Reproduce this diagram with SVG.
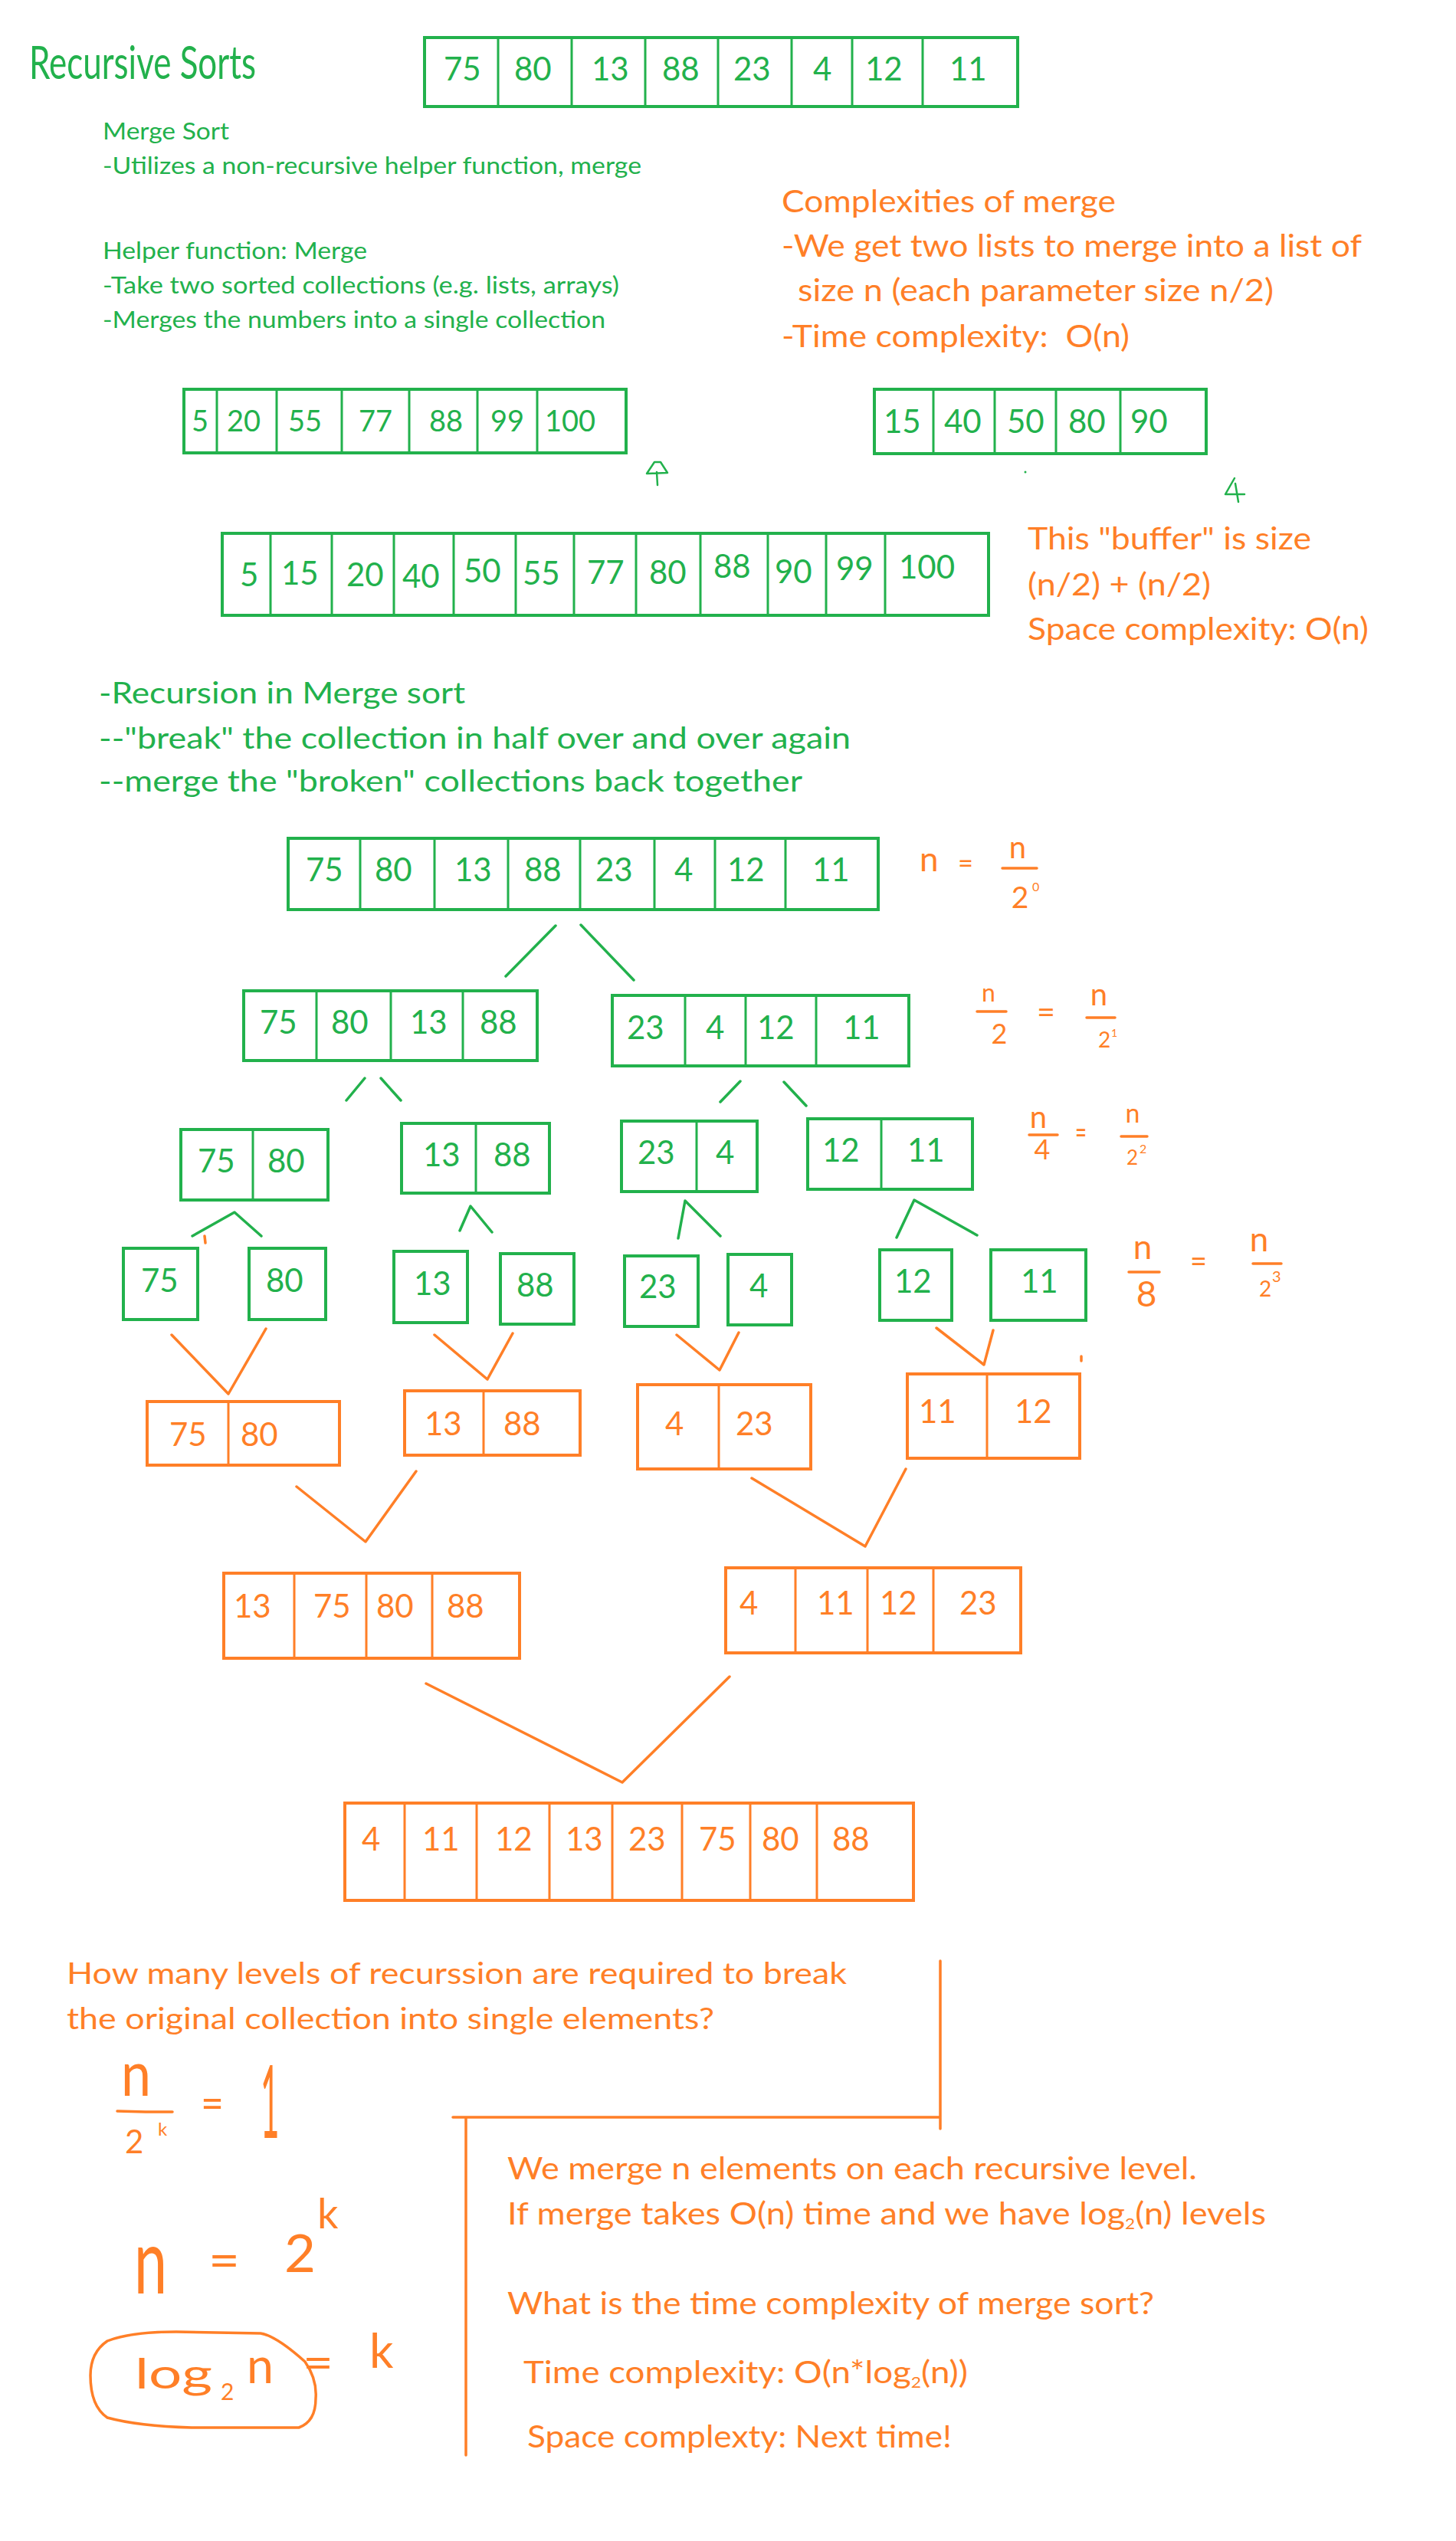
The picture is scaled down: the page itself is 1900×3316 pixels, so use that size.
<svg xmlns="http://www.w3.org/2000/svg" width="1900" height="3316" viewBox="0 0 1900 3316">
<style>
text{font-family:Lato,"Liberation Sans",sans-serif}
.g{fill:#22B14C}
.o{fill:#FF7F27}
.bg{fill:none;stroke:#22B14C;stroke-width:4}
.bo{fill:none;stroke:#FF7F27;stroke-width:4}
.dg{fill:none;stroke:#22B14C;stroke-width:3}
.do{fill:none;stroke:#FF7F27;stroke-width:3}
.n42{font-size:42px}
.n38{font-size:38px}
.cg{fill:none;stroke:#22B14C;stroke-width:3.5;stroke-linecap:round;stroke-linejoin:round}
.co{fill:none;stroke:#FF7F27;stroke-width:3.5;stroke-linecap:round;stroke-linejoin:round}
.ink{fill:none;stroke:#FF7F27;stroke-width:3.5;stroke-linecap:round;stroke-linejoin:round}
.inkg{fill:none;stroke:#22B14C;stroke-width:2.5;stroke-linecap:round;stroke-linejoin:round}
.t31{font-size:31px}
.t40{font-size:40px}
.t38{font-size:38px}
</style>
<rect width="1900" height="3316" fill="#ffffff"/>

<!-- Titles and notes -->
<g id="notes-top">
<text class="g" x="38" y="103" font-size="60" textLength="296" lengthAdjust="spacingAndGlyphs">Recursive Sorts</text>
<text class="g t31" x="134" y="182" textLength="165" lengthAdjust="spacingAndGlyphs">Merge Sort</text>
<text class="g t31" x="134" y="227" textLength="703" lengthAdjust="spacingAndGlyphs">-Utilizes a non-recursive helper function, merge</text>
<text class="g t31" x="134" y="338" textLength="345" lengthAdjust="spacingAndGlyphs">Helper function: Merge</text>
<text class="g t31" x="134" y="383" textLength="674" lengthAdjust="spacingAndGlyphs">-Take two sorted collections (e.g. lists, arrays)</text>
<text class="g t31" x="134" y="428" textLength="656" lengthAdjust="spacingAndGlyphs">-Merges the numbers into a single collection</text>
</g>

<g id="notes-merge-complexity">
<text class="o t40" x="1020" y="277" textLength="436" lengthAdjust="spacingAndGlyphs">Complexities of merge</text>
<text class="o t40" x="1020" y="335" textLength="757" lengthAdjust="spacingAndGlyphs">-We get two lists to merge into a list of</text>
<text class="o t40" x="1041" y="393" textLength="621" lengthAdjust="spacingAndGlyphs">size n (each parameter size n/2)</text>
<text class="o t40" x="1020" y="453" textLength="454" lengthAdjust="spacingAndGlyphs" xml:space="preserve">-Time complexity:  O(n)</text>
<text class="o t40" x="1341" y="717" textLength="370" lengthAdjust="spacingAndGlyphs">This "buffer" is size</text>
<text class="o t40" x="1341" y="777" textLength="239" lengthAdjust="spacingAndGlyphs">(n/2) + (n/2)</text>
<text class="o t40" x="1341" y="835" textLength="445" lengthAdjust="spacingAndGlyphs">Space complexity: O(n)</text>
</g>

<g id="notes-recursion">
<text class="g t38" x="129" y="918" textLength="478" lengthAdjust="spacingAndGlyphs">-Recursion in Merge sort</text>
<text class="g t38" x="129" y="977" textLength="981" lengthAdjust="spacingAndGlyphs">--"break" the collection in half over and over again</text>
<text class="g t38" x="129" y="1033" textLength="918" lengthAdjust="spacingAndGlyphs">--merge the "broken" collections back together</text>
</g>

<!-- Top array -->
<g id="arr-top">
<rect class="bg" x="554" y="49" width="774" height="90"/>
<path class="dg" d="M650 49V139M746 49V139M842 49V139M937 49V139M1033 49V139M1112 49V139M1204 49V139"/>
<g class="g n42">
<text x="579" y="105">75</text><text x="671" y="105">80</text><text x="772" y="105">13</text><text x="864" y="105">88</text>
<text x="957" y="105">23</text><text x="1061" y="105">4</text><text x="1129" y="105">12</text><text x="1239" y="105">11</text>
</g>
</g>

<!-- Merge example arrays -->
<g id="arr-merge-a">
<rect class="bg" x="240" y="508" width="577" height="83"/>
<path class="dg" d="M283 508V591M361 508V591M446 508V591M534 508V591M623 508V591M701 508V591"/>
<g class="g n38">
<text x="250" y="563">5</text><text x="296" y="563">20</text><text x="376" y="563">55</text><text x="468" y="563">77</text>
<text x="560" y="563">88</text><text x="640" y="563">99</text><text x="711" y="563">100</text>
</g>
</g>

<g id="arr-merge-b">
<rect class="bg" x="1141" y="508" width="433" height="84"/>
<path class="dg" d="M1218 508V592M1298 508V592M1378 508V592M1462 508V592"/>
<g class="g n42">
<text x="1153" y="565">15</text><text x="1232" y="565">40</text><text x="1314" y="565">50</text><text x="1394" y="565">80</text><text x="1475" y="565">90</text>
</g>
</g>

<g id="arr-buffer">
<rect class="bg" x="290" y="696" width="1000" height="107"/>
<path class="dg" d="M353 696V803M433 696V803M514 696V803M592 696V803M673 696V803M749 696V803M830 696V803M914 696V803M1002 696V803M1078 696V803M1155 696V803"/>
<g class="g n42">
<text x="313" y="765">5</text><text x="367" y="763">15</text><text x="452" y="765">20</text><text x="525" y="767">40</text>
<text x="605" y="760">50</text><text x="682" y="763">55</text><text x="766" y="762">77</text><text x="847" y="762">80</text>
<text x="931" y="754">88</text><text x="1011" y="761">90</text><text x="1091" y="757">99</text><text x="1173" y="755">100</text>
</g>
</g>

<!-- ink scribbles -->
<g id="scribbles">
<path class="inkg" d="M858 633L857 616M844 618L854 603L862 603L871 617L845 618"/>
<path class="inkg" d="M1611 624L1599 645L1624 645M1612 631L1616 655"/>
<circle cx="1338" cy="616" r="1.5" fill="#22B14C"/>
</g>

<!-- Tree level 0 -->
<g id="l0">
<rect class="bg" x="376" y="1094" width="770" height="93"/>
<path class="dg" d="M470 1094V1187M567 1094V1187M663 1094V1187M757 1094V1187M854 1094V1187M933 1094V1187M1025 1094V1187"/>
<g class="g n42">
<text x="399" y="1150">75</text><text x="489" y="1150">80</text><text x="593" y="1150">13</text><text x="684" y="1150">88</text>
<text x="777" y="1150">23</text><text x="880" y="1150">4</text><text x="949" y="1150">12</text><text x="1060" y="1150">11</text>
</g>
</g>

<!-- Level 1 -->
<g id="l1-left">
<rect class="bg" x="318" y="1293" width="383" height="91"/>
<path class="dg" d="M413 1293V1384M510 1293V1384M604 1293V1384"/>
<g class="g n42"><text x="339" y="1349">75</text><text x="432" y="1349">80</text><text x="535" y="1349">13</text><text x="626" y="1349">88</text></g>
</g>
<g id="l1-right">
<rect class="bg" x="799" y="1299" width="387" height="92"/>
<path class="dg" d="M894 1299V1391M973 1299V1391M1065 1299V1391"/>
<g class="g n42"><text x="818" y="1356">23</text><text x="921" y="1356">4</text><text x="988" y="1356">12</text><text x="1100" y="1356">11</text></g>
</g>

<!-- Level 2 -->
<g id="l2-a">
<rect class="bg" x="236" y="1474" width="192" height="92"/>
<path class="dg" d="M330 1474V1566"/>
<g class="g n42"><text x="258" y="1530">75</text><text x="349" y="1530">80</text></g>
</g>
<g id="l2-b">
<rect class="bg" x="524" y="1466" width="193" height="91"/>
<path class="dg" d="M621 1466V1557"/>
<g class="g n42"><text x="552" y="1522">13</text><text x="644" y="1522">88</text></g>
</g>
<g id="l2-c">
<rect class="bg" x="811" y="1463" width="177" height="92"/>
<path class="dg" d="M909 1463V1555"/>
<g class="g n42"><text x="832" y="1519">23</text><text x="934" y="1519">4</text></g>
</g>
<g id="l2-d">
<rect class="bg" x="1054" y="1460" width="215" height="92"/>
<path class="dg" d="M1150 1460V1552"/>
<g class="g n42"><text x="1073" y="1516">12</text><text x="1184" y="1516">11</text></g>
</g>

<!-- Level 3 -->
<g id="l3-75"><rect class="bg" x="161" y="1629" width="97" height="93"/><text class="g n42" x="184" y="1686">75</text></g>
<g id="l3-80"><rect class="bg" x="325" y="1629" width="100" height="93"/><text class="g n42" x="347" y="1686">80</text></g>
<g id="l3-13"><rect class="bg" x="514" y="1633" width="96" height="93"/><text class="g n42" x="540" y="1690">13</text></g>
<g id="l3-88"><rect class="bg" x="653" y="1636" width="96" height="92"/><text class="g n42" x="674" y="1692">88</text></g>
<g id="l3-23"><rect class="bg" x="815" y="1639" width="96" height="92"/><text class="g n42" x="834" y="1694">23</text></g>
<g id="l3-4"><rect class="bg" x="950" y="1637" width="83" height="92"/><text class="g n42" x="978" y="1693">4</text></g>
<g id="l3-12"><rect class="bg" x="1148" y="1631" width="94" height="92"/><text class="g n42" x="1167" y="1687">12</text></g>
<g id="l3-11"><rect class="bg" x="1293" y="1631" width="124" height="92"/><text class="g n42" x="1332" y="1687">11</text></g>

<!-- Level 4 (merged pairs) -->
<g id="l4-a">
<rect class="bo" x="192" y="1829" width="251" height="83"/>
<path class="do" d="M298 1829V1912"/>
<g class="o n42"><text x="221" y="1887">75</text><text x="314" y="1887">80</text></g>
</g>
<g id="l4-b">
<rect class="bo" x="528" y="1815" width="229" height="84"/>
<path class="do" d="M631 1815V1899"/>
<g class="o n42"><text x="554" y="1873">13</text><text x="657" y="1873">88</text></g>
</g>
<g id="l4-c">
<rect class="bo" x="832" y="1807" width="226" height="110"/>
<path class="do" d="M938 1807V1917"/>
<g class="o n42"><text x="868" y="1873">4</text><text x="960" y="1873">23</text></g>
</g>
<g id="l4-d">
<rect class="bo" x="1184" y="1793" width="225" height="110"/>
<path class="do" d="M1288 1793V1903"/>
<g class="o n42"><text x="1199" y="1857">11</text><text x="1324" y="1857">12</text></g>
</g>

<!-- Level 5 -->
<g id="l5-left">
<rect class="bo" x="292" y="2053" width="386" height="111"/>
<path class="do" d="M384 2053V2164M478 2053V2164M564 2053V2164"/>
<g class="o n42"><text x="305" y="2111">13</text><text x="409" y="2111">75</text><text x="491" y="2111">80</text><text x="583" y="2111">88</text></g>
</g>
<g id="l5-right">
<rect class="bo" x="947" y="2046" width="385" height="111"/>
<path class="do" d="M1038 2046V2157M1132 2046V2157M1218 2046V2157"/>
<g class="o n42"><text x="965" y="2107">4</text><text x="1066" y="2107">11</text><text x="1148" y="2107">12</text><text x="1252" y="2107">23</text></g>
</g>

<!-- Level 6 -->
<g id="l6">
<rect class="bo" x="450" y="2353" width="742" height="127"/>
<path class="do" d="M528 2353V2480M622 2353V2480M717 2353V2480M799 2353V2480M890 2353V2480M979 2353V2480M1066 2353V2480"/>
<g class="o n42">
<text x="472" y="2415">4</text><text x="551" y="2415">11</text><text x="646" y="2415">12</text><text x="738" y="2415">13</text>
<text x="820" y="2415">23</text><text x="912" y="2415">75</text><text x="994" y="2415">80</text><text x="1086" y="2415">88</text>
</g>
</g>

<!-- Connectors -->
<g id="connectors">
<path class="cg" d="M725 1208L660 1274M758 1207L827 1279"/>
<path class="cg" d="M476 1407L452 1436M497 1407L523 1436M966 1411L940 1438M1023 1412L1052 1443"/>
<path class="cg" d="M251 1613L306 1582L341 1613M600 1606L614 1574L642 1608M885 1616L894 1567L940 1613M1170 1615L1193 1566L1275 1612"/>
<path class="co" d="M224 1742L298 1819L347 1734M567 1742L636 1800L669 1740M883 1742L939 1788L964 1739M1222 1733L1284 1781L1296 1736"/>
<path class="co" d="M387 1940L477 2012L543 1920M981 1929L1129 2018L1182 1917"/>
<path class="co" d="M556 2197L812 2326L952 2188"/>
<path class="co" d="M267 1613L268 1622M1411 1770L1411 1776"/>
</g>

<!-- Level size annotations -->
<g id="ann-l0">
<text class="o" x="1200" y="1137" font-size="44">n</text>
<text class="o" x="1250" y="1139" font-size="36" textLength="20" lengthAdjust="spacingAndGlyphs">=</text>
<text class="o" x="1328" y="1120" font-size="40" text-anchor="middle">n</text>
<path class="ink" d="M1308 1133H1353"/>
<text class="o" x="1331" y="1185" font-size="39" text-anchor="middle">2</text>
<text class="o" x="1347" y="1163" font-size="16">0</text>
</g>
<g id="ann-l1">
<text class="o" x="1290" y="1307" font-size="32" text-anchor="middle">n</text>
<path class="ink" d="M1275 1320H1313"/>
<text class="o" x="1304" y="1362" font-size="36" text-anchor="middle">2</text>
<text class="o" x="1353" y="1335" font-size="40" textLength="24" lengthAdjust="spacingAndGlyphs">=</text>
<text class="o" x="1434" y="1312" font-size="40" text-anchor="middle">n</text>
<path class="ink" d="M1418 1328H1455"/>
<text class="o" x="1433" y="1367" font-size="28">2</text>
<text class="o" x="1450" y="1353" font-size="14">1</text>
</g>
<g id="ann-l2">
<text class="o" x="1355" y="1472" font-size="40" text-anchor="middle">n</text>
<path class="ink" d="M1343 1481H1380"/>
<text class="o" x="1360" y="1513" font-size="36" text-anchor="middle">4</text>
<text class="o" x="1403" y="1492" font-size="40" textLength="15" lengthAdjust="spacingAndGlyphs">=</text>
<text class="o" x="1478" y="1465" font-size="34" text-anchor="middle">n</text>
<path class="ink" d="M1463 1483H1497"/>
<text class="o" x="1470" y="1520" font-size="26">2</text>
<text class="o" x="1487" y="1505" font-size="16">2</text>
</g>
<g id="ann-l3">
<text class="o" x="1491" y="1643" font-size="44" text-anchor="middle">n</text>
<path class="ink" d="M1473 1660H1513"/>
<text class="o" x="1496" y="1705" font-size="46" text-anchor="middle">8</text>
<text class="o" x="1553" y="1660" font-size="40" textLength="22" lengthAdjust="spacingAndGlyphs">=</text>
<text class="o" x="1643" y="1633" font-size="44" text-anchor="middle">n</text>
<path class="ink" d="M1635 1649H1672"/>
<text class="o" x="1643" y="1692" font-size="28">2</text>
<text class="o" x="1660" y="1673" font-size="20">3</text>
</g>

<!-- Bottom section -->
<g id="notes-levels">
<text class="o" x="87" y="2589" font-size="39" textLength="1018" lengthAdjust="spacingAndGlyphs">How many levels of recurssion are required to break</text>
<text class="o" x="87" y="2648" font-size="39" textLength="845" lengthAdjust="spacingAndGlyphs">the original collection into single elements?</text>
</g>

<g id="derivation">
<text class="o" x="158" y="2735" font-size="82" textLength="39" lengthAdjust="spacingAndGlyphs">n</text>
<path class="ink" d="M153 2755L190 2756L225 2756"/>
<text class="o" x="163" y="2810" font-size="42">2</text>
<text class="o" x="206" y="2787" font-size="24">k</text>
<text class="o" x="262" y="2764" font-size="56" textLength="30" lengthAdjust="spacingAndGlyphs">=</text>
<text class="o" x="340" y="2790" font-size="132" transform="translate(340 0) scale(0.32 1) translate(-340 0)">1</text>

<text class="o" x="175" y="2993" font-size="118" textLength="43" lengthAdjust="spacingAndGlyphs">n</text>
<text class="o" x="272" y="2972" font-size="64" textLength="41" lengthAdjust="spacingAndGlyphs">=</text>
<text class="o" x="371" y="2965" font-size="68" textLength="41" lengthAdjust="spacingAndGlyphs">2</text>
<text class="o" x="414" y="2908" font-size="54">k</text>

<path class="ink" d="M140 3055Q170 3043 230 3043L340 3045Q360 3048 398 3082Q414 3105 412 3130Q412 3160 390 3168L250 3168Q180 3166 140 3155Q118 3140 118 3100Q118 3070 140 3055Z"/>
<text class="o" x="176" y="3117" font-size="54" textLength="101" lengthAdjust="spacingAndGlyphs">log</text>
<text class="o" x="288" y="3132" font-size="30">2</text>
<text class="o" x="322" y="3110" font-size="64" textLength="35" lengthAdjust="spacingAndGlyphs">n</text>
<text class="o" x="395" y="3104" font-size="60" textLength="40" lengthAdjust="spacingAndGlyphs">=</text>
<text class="o" x="482" y="3090" font-size="62">k</text>
</g>

<g id="divider-lines">
<path class="co" d="M1227 2559V2778M591 2763H1227M608 2763V3204"/>
</g>

<g id="notes-sort-complexity">
<text class="o t40" x="662" y="2844" textLength="900" lengthAdjust="spacingAndGlyphs">We merge n elements on each recursive level.</text>
<text class="o t40" x="662" y="2903" textLength="990" lengthAdjust="spacingAndGlyphs">If merge takes O(n) time and we have log<tspan font-size="20" dy="6">2</tspan><tspan dy="-6">(n) levels</tspan></text>
<text class="o t40" x="662" y="3020" textLength="844" lengthAdjust="spacingAndGlyphs">What is the time complexity of merge sort?</text>
<text class="o t40" x="683" y="3110" textLength="580" lengthAdjust="spacingAndGlyphs">Time complexity: O(n*log<tspan font-size="20" dy="6">2</tspan><tspan dy="-6">(n))</tspan></text>
<text class="o t40" x="688" y="3194" textLength="554" lengthAdjust="spacingAndGlyphs">Space complexty: Next time!</text>
</g>
</svg>
